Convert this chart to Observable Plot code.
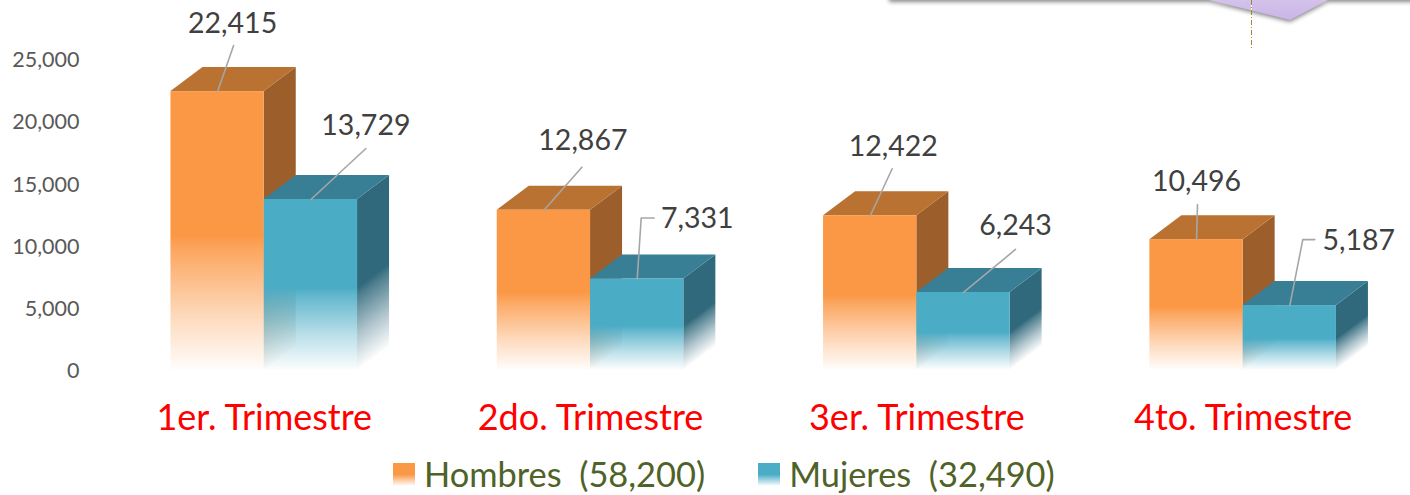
<!DOCTYPE html>
<html lang="es">
<head>
<meta charset="utf-8">
<script src="https://cdn.jsdelivr.net/npm/d3@7"></script>
<script src="https://cdn.jsdelivr.net/npm/@observablehq/plot@0.6"></script>
<style>
  html, body { margin: 0; padding: 0; background: #fff; }
  #page { position: relative; width: 1410px; height: 495px; overflow: hidden; font-family: Lato, sans-serif; }
  #chart svg { display: block; }
  #legend { position: absolute; left: 393px; top: 451px; height: 45px; display: flex; align-items: center; color: #4F6228; font-size: 34.4px; white-space: pre; }
  .item { display: flex; align-items: center; }
  .sw { width: 22px; height: 23px; margin-right: 9px; margin-top: 1px; }
  .banner { position: absolute; left: 890px; top: -10px; width: 540px; height: 10px; background: #ddd; box-shadow: 0 1px 4px 1px #8a8a8a; }
  .tipwrap { position: absolute; left: 1200px; top: 0; width: 140px; height: 30px; filter: drop-shadow(0 2px 2px #888); }
  .tip { width: 100%; height: 100%; background: linear-gradient(#d3c2ea, #c6aee6); clip-path: polygon(9px 0, 128px 0, 90px 20px); }
  .guide { position: absolute; left: 1251px; top: 0; width: 1px; height: 49px; background: repeating-linear-gradient(#a08a2e 0 5px, #fff 5px 7px, #a08a2e 7px 8px, #fff 8px 10px); }
</style>
</head>
<body>
<div id="page">
  <div id="chart"></div>
  <div id="legend"></div>
  <div class="banner"></div>
  <div class="tipwrap"><div class="tip"></div></div>
  <div class="guide"></div>
</div>
<script>
const quarters = ["1er. Trimestre", "2do. Trimestre", "3er. Trimestre", "4to. Trimestre"];
const hombres = [22415, 12867, 12422, 10496];
const mujeres = [13729, 7331, 6243, 5187];
const seriesNames = ["Hombres", "Mujeres"];
const seriesTotals = [58200, 32490];
const yTicks = [0, 5000, 10000, 15000, 20000, 25000];

// Label offsets from the top centre of each bar, in pixels: [leader end, elbow, text anchor]
const labelOffsets = {
  Hombres: [
    {lx: 16, ly: -46, tx: 15, ty: -68},
    {lx: 38, ly: -43, tx: 39, ty: -69},
    {lx: 22, ly: -47, tx: 23, ty: -69},
    {lx: 1, ly: -35, tx: 0, ty: -58}
  ],
  Mujeres: [
    {lx: 55, ly: -51, tx: 55, ty: -74},
    {lx: 4, ly: -61, ex: 17, tx: 60, ty: -60},
    {lx: 52, ly: -43, tx: 52, ty: -67},
    {lx: 13, ly: -66, ex: 25, tx: 69, ty: -65}
  ]
};

const palette = {
  Hombres: {front: "#FB9846", top: "#B97231", side: "#9C5F2B"},
  Mujeres: {front: "#4BACC6", top: "#387F95", side: "#31697C"}
};

// Geometry of the pseudo-3D extrusion
const pxPerX = 326.3, pxPerY = 310.5 / 25000;
const barW = 93.3 / pxPerX;
const depthX = 32 / pxPerX, depthY = 24 / pxPerY;
const uX = (p) => p / pxPerX, uY = (p) => -p / pxPerY;

const rows = quarters.flatMap((q, i) => [
  {q, i, s: "Hombres", v: hombres[i], x1: i - barW, x2: i},
  {q, i, s: "Mujeres", v: mujeres[i], x1: i, x2: i + barW}
]).map((d) => ({...d, id: `${d.s}-${d.i}`, off: labelOffsets[d.s][d.i], cx: (d.x1 + d.x2) / 2}));

const marks = [];
for (const d of rows) {
  const c = palette[d.s];
  marks.push(
    Plot.areaY([{x: d.x2, y1: 0, y2: d.v}, {x: d.x2 + depthX, y1: depthY, y2: d.v + depthY}],
      {x: "x", y1: "y1", y2: "y2", fill: `url(#side-${d.id})`}),
    Plot.areaX([{y: d.v, x1: d.x1, x2: d.x2}, {y: d.v + depthY, x1: d.x1 + depthX, x2: d.x2 + depthX}],
      {y: "y", x1: "x1", x2: "x2", fill: c.top}),
    Plot.rect([d], {x1: "x1", x2: "x2", y1: 0, y2: "v", fill: `url(#front-${d.s})`})
  );
}

const leader = (d) => {
  const pts = [{x: d.cx, y: d.v}, {x: d.cx + uX(d.off.lx), y: d.v + uY(d.off.ly)}];
  if (d.off.ex) pts.push({x: d.cx + uX(d.off.ex), y: d.v + uY(d.off.ly)});
  return pts.map((p) => ({...p, id: d.id}));
};

const plot = Plot.plot({
  width: 1410,
  height: 450,
  marginLeft: 101,
  marginRight: 5,
  marginTop: 0,
  marginBottom: 81,
  style: {fontFamily: "Lato, sans-serif", background: "transparent", overflow: "visible"},
  x: {domain: [-0.5, 3.5], range: [100.6, 1405.8]},
  y: {domain: [0, 25000], range: [369.5, 59]},
  marks: [
    ...marks,
    Plot.line(rows.flatMap(leader), {x: "x", y: "y", z: "id", stroke: "#A6A6A6", strokeWidth: 1.6}),
    Plot.text(rows, {
      x: "cx", y: "v", text: (d) => d3.format(",")(d.v),
      fill: "#404040", fontSize: 28.5,
      render(index, scales, values, dims, ctx, next) {
        const g = next(index, scales, values, dims, ctx);
        d3.select(g).selectAll("text").attr("transform", function (_, k) {
          const d = rows[index[k]];
          return `translate(${scales.x(d.cx) + d.off.tx},${scales.y(d.v) + d.off.ty})`;
        });
        return g;
      }
    }),
    Plot.axisY({ticks: yTicks, tickSize: 0, tickPadding: 22, dy: 1, tickFormat: d3.format(","), fontSize: 21.5, fill: "#595959", label: null}),
    Plot.axisX({ticks: [0, 1, 2, 3], tickSize: 0, tickPadding: 35, tickFormat: (i) => quarters[i], fontSize: 36, fill: "#FF0000", label: null})
  ]
});

// Gradients, attached through the plot's own scales
const sx = plot.scale("x").apply, sy = plot.scale("y").apply;
const defs = d3.select(plot).insert("defs", ":first-child");
const fadeStops = (g, color) => {
  [[0, 1], [0.52, 1], [0.57, 0.86], [0.8, 0.38], [1, 0.02]].forEach(([o, a]) =>
    g.append("stop").attr("offset", o).attr("stop-color", color).attr("stop-opacity", a));
};
for (const s of seriesNames) {
  fadeStops(defs.append("linearGradient").attr("id", `front-${s}`)
    .attr("x1", 0).attr("y1", 0).attr("x2", 0).attr("y2", 1), palette[s].front);
}
for (const d of rows) {
  const x0 = sx(d.x2), y0 = sy(d.v), h = sy(0) - y0;
  fadeStops(defs.append("linearGradient").attr("id", `side-${d.id}`)
    .attr("gradientUnits", "userSpaceOnUse")
    .attr("x1", x0).attr("y1", y0)
    .attr("x2", x0 + 24 * h / 50).attr("y2", y0 + 32 * h / 50), palette[d.s].side);
}
document.getElementById("chart").append(plot);

// Legend
const legend = d3.select("#legend");
seriesNames.forEach((s, i) => {
  const it = legend.append("div").attr("class", "item").style("margin-right", i === 0 ? "53px" : "0");
  it.append("div").attr("class", "sw")
    .style("background", `linear-gradient(${palette[s].front} 50%, #fff 100%)`);
  it.append("span").text(`${s}  (${d3.format(",")(seriesTotals[i])})`);
});
</script>
</body>
</html>
